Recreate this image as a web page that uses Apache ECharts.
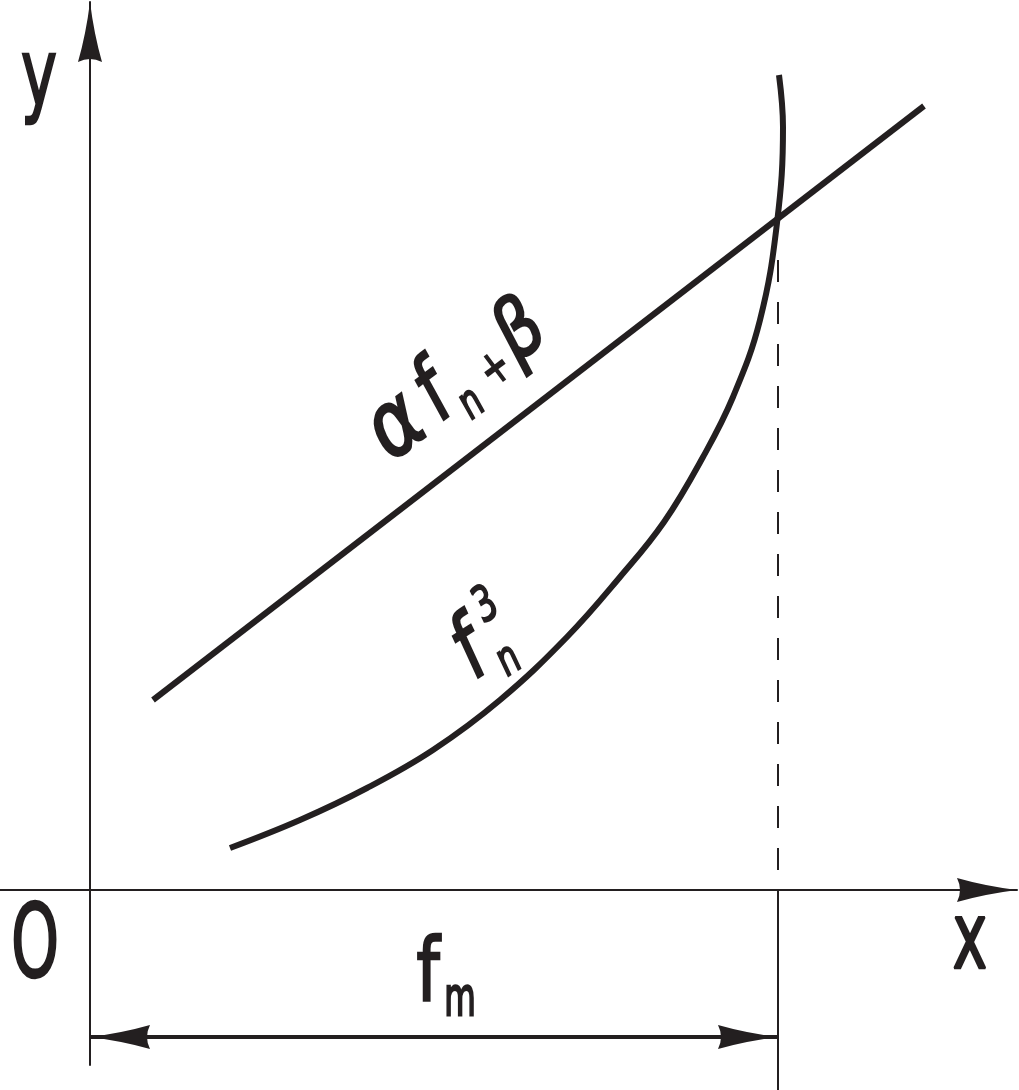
<!DOCTYPE html>
<html>
<head>
<meta charset="utf-8">
<script src="https://cdn.jsdelivr.net/npm/echarts@6/dist/echarts.min.js"></script>
<style>
html,body{margin:0;padding:0;background:#fff;}
#chart{width:1019px;height:1090px;}
</style>
</head>
<body>
<div id="chart"></div>
<script>
// ---- data (origin O at 0,0) ----
const xRange = [-90, 927];
const yRange = [-175, 888];
// straight line  a·f_n + b
const linX = [63, 834];
const linY = [190, 784];
// curve f_n^3
const cubX = [140, 210, 277, 343, 410, 477, 530, 574, 613, 643, 670, 687, 693, 689];
const cubY = [42, 70, 102, 140, 190, 253, 313, 368, 433, 493, 570, 667, 763, 815];
// root f_m, guide line and dimension line
const fm = 688;
const guideTop = 630;
const guideBottom = -200;
const dimY = -147;

const ink = '#231f20';
const arrowPath = 'path://M12 0 Q16 32 24 60 Q12 54 0 60 Q8 32 12 0 Z';

function glyph(text, x, y, size, opts) {
  opts = opts || {};
  return {
    type: 'text', x: x, y: y, scaleX: opts.sx || 0.66, silent: true,
    style: {
      text: text, fill: ink, stroke: ink, lineWidth: opts.lw == null ? 2.5 : opts.lw,
      fontSize: size, fontFamily: 'DejaVu Sans',
      fontStyle: opts.italic ? 'italic' : 'normal',
      align: 'center', verticalAlign: 'middle',
      textAlign: 'center', textVerticalAlign: 'middle'
    }
  };
}

const chart = echarts.init(document.getElementById('chart'), null, {renderer: 'canvas'});
const axisCommon = {
  type: 'value',
  axisLine: {
    onZero: true,
    symbol: ['none', arrowPath],
    symbolSize: [24, 60],
    symbolOffset: [0, -30],
    lineStyle: {color: ink, width: 2}
  },
  axisTick: {show: false},
  axisLabel: {show: false},
  splitLine: {show: false}
};
const dimEnd = {symbol: arrowPath, symbolSize: [24, 60], symbolOffset: [0, 30], symbolKeepAspect: false};

chart.setOption({
  animation: false,
  backgroundColor: '#fff',
  grid: {left: 0, right: 2, top: 2, bottom: 25, containLabel: false},
  xAxis: Object.assign({min: xRange[0], max: xRange[1]}, axisCommon),
  yAxis: Object.assign({min: yRange[0], max: yRange[1]}, axisCommon),
  series: [
    {
      name: 'αfₙ+β', type: 'line', symbol: 'none', silent: true,
      data: linX.map((x, i) => [x, linY[i]]),
      lineStyle: {color: ink, width: 6}
    },
    {
      name: 'fₙ³', type: 'line', symbol: 'none', silent: true, smooth: 0.4,
      data: cubX.map((x, i) => [x, cubY[i]]),
      lineStyle: {color: ink, width: 6}
    },
    {
      name: 'guide', type: 'line', symbol: 'none', silent: true,
      data: [[fm, guideTop], [fm, 0]],
      lineStyle: {color: ink, width: 2, type: [22, 20]}
    },
    {
      name: 'guideBelow', type: 'line', symbol: 'none', silent: true, clip: false,
      data: [[fm, 0], [fm, guideBottom]],
      lineStyle: {color: ink, width: 2},
      markLine: {
        silent: true,
        symbol: 'none',
        label: {show: false},
        emphasis: {disabled: true},
        lineStyle: {color: ink, width: 4, type: 'solid'},
        data: [[
          Object.assign({coord: [0, dimY]}, dimEnd),
          Object.assign({coord: [fm, dimY]}, dimEnd)
        ]]
      }
    }
  ],
  graphic: [
    glyph('y', 39, 81, 92, {sx: 0.66}),
    glyph('x', 970, 944, 92, {sx: 0.64}),
    glyph('O', 35, 950, 102, {sx: 0.6}),
    glyph('f', 428, 977, 88, {sx: 0.75}),
    glyph('m', 460, 1001, 54, {sx: 0.6}),
    {
      type: 'group', x: 466, y: 383, rotation: 37 * Math.PI / 180,
      children: [
        glyph('α', -82, -5, 90, {italic: true, sx: 0.85}),
        glyph('f', -33, -7, 88, {italic: true, sx: 0.75}),
        glyph('n', -8, 21, 46, {italic: true, sx: 0.7, lw: 2}),
        glyph('+', 32, 8, 48, {italic: false, sx: 0.7, lw: 2}),
        glyph('β', 74, -6, 80, {italic: true, sx: 0.85})
      ]
    },
    {
      type: 'group', x: 470, y: 652, rotation: 33 * Math.PI / 180,
      children: [
        glyph('f', 0, 3, 88, {italic: true, sx: 0.75}),
        glyph('n', 28, 29, 46, {italic: true, sx: 0.7, lw: 2}),
        glyph('3', 39, -29, 48, {italic: true, sx: 0.7, lw: 2})
      ]
    }
  ]
});
</script>
</body>
</html>
